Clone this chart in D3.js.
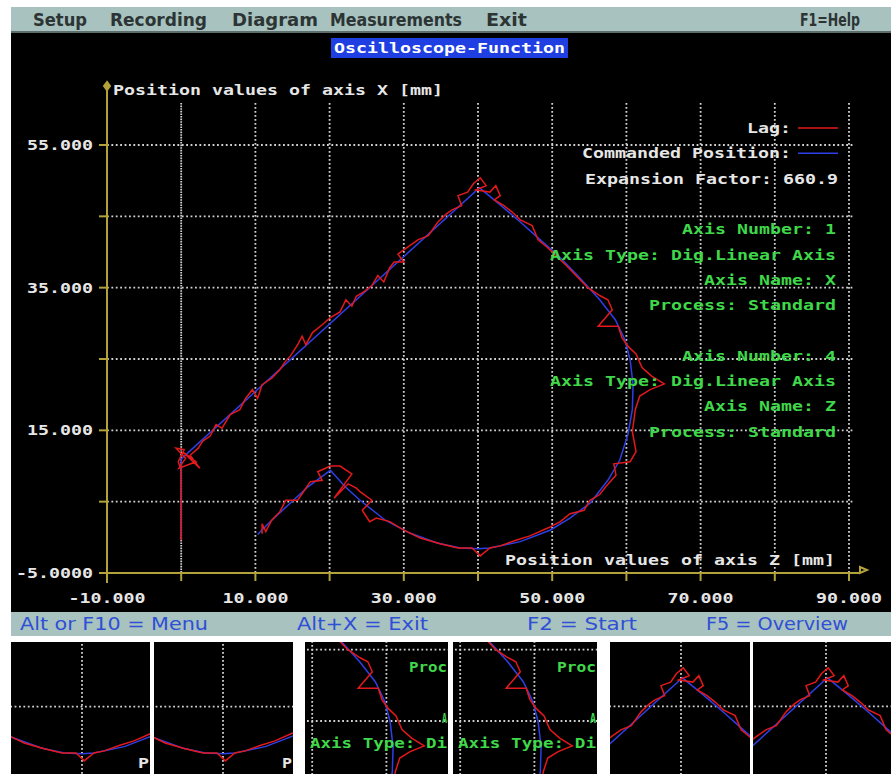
<!DOCTYPE html>
<html>
<head>
<meta charset="utf-8">
<script src="https://cdn.jsdelivr.net/npm/d3@7"></script>
<style>
  html, body { margin: 0; padding: 0; background: #ffffff; }
  svg { display: block; }
</style>
</head>
<body>
<svg id="screen" width="891" height="774"></svg>
<script>
// ---- axis ranges and ticks (mm) ----
const xDomain = [-10, 90];          // axis Z
const yDomain = [-5, 55];           // axis X
const xGridValues = [0, 10, 20, 30, 40, 50, 60, 70, 80, 90];
const yGridValues = [5, 15, 25, 35, 45, 55];
const xTickValues = [-10, 0, 10, 20, 30, 40, 50, 60, 70, 80, 90];
const yTickValues = [-5, 5, 15, 25, 35, 45, 55];
const xLabelValues = [-10, 10, 30, 50, 70, 90];
const xTickLabels = ["-10.000", "10.000", "30.000", "50.000", "70.000", "90.000"];
const yLabelValues = [-5, 15, 35, 55];
const yTickLabels = ["-5.0000", "15.000", "35.000", "55.000"];

// ---- recorded traces: [Z, X] in mm ----
const commanded = [
  [0, 0], [0, 11], [40.2, 49.0], [43.0, 46.6], [45.7, 44.2], [48.4, 41.7], [51.1, 39.2],
  [53.7, 36.4], [56.4, 33.3], [58.5, 30.5], [59.8, 27.7], [60.5, 24.9], [60.9, 21.4],
  [60.8, 17.9], [60.2, 14.4], [59.1, 10.8], [57.5, 8.0], [55.1, 4.8], [52.4, 2.7],
  [49.7, 1.0], [45.7, -0.6], [41.6, -1.5], [40.0, -1.6], [37.6, -1.5], [34.5, -0.8],
  [30.8, 0.6], [27.5, 2.4], [24.1, 5.2], [22.1, 7.1], [20.1, 9.4], [17.0, 7.0],
  [14.5, 4.6], [12.2, 2.4], [10.3, 0.4]
];
const lag = [
  [0, -0.4], [0, 5.2], [0, 9.4], [-0.4, 10.6], [0.4, 12.3], [-0.7, 12.5], [0.6, 11.1],
  [-0.3, 9.7], [2.0, 10.6], [0.2, 12.0], [2.5, 9.7], [1.2, 11.5], [2.3, 12.5],
  [2.9, 13.5], [3.9, 14.2], [4.7, 15.8], [5.5, 15.3], [6.6, 17.2], [7.9, 17.9],
  [8.7, 19.5], [9.6, 20.7], [10.3, 19.5], [10.9, 21.4], [12.2, 22.3], [13.3, 23.5],
  [14.0, 24.6], [14.7, 25.4], [15.7, 27.0], [16.3, 28.2], [16.8, 27.0], [17.7, 28.7],
  [19.0, 29.8], [20.1, 30.8], [21.4, 31.6], [22.2, 33.3], [23.0, 32.4], [23.6, 33.8],
  [24.6, 34.4], [25.7, 35.3], [26.5, 36.7], [27.3, 35.8], [28.1, 37.8], [28.7, 38.6],
  [30.0, 38.6], [29.2, 39.7], [30.8, 40.9], [31.9, 41.7], [33.3, 42.3], [34.6, 44.2],
  [35.7, 45.3], [36.5, 45.9], [37.8, 46.5], [37.3, 47.9], [38.6, 48.4], [39.4, 49.6],
  [40.3, 50.4], [41.1, 49.3], [39.7, 48.7], [41.6, 48.4], [42.4, 49.3], [43.0, 47.9],
  [42.2, 47.3], [43.5, 46.5], [44.6, 45.6], [45.7, 44.5], [47.3, 43.7], [48.1, 41.7],
  [49.4, 40.6], [50.5, 39.5], [51.9, 38.1], [53.5, 36.4], [54.8, 35.0], [56.4, 33.9],
  [57.5, 33.3], [58.1, 31.9], [56.2, 29.6], [58.9, 29.6], [59.4, 28.0], [60.2, 26.8],
  [61.3, 25.7], [62.1, 23.8], [63.4, 22.6], [65.1, 21.5], [63.2, 20.7], [61.8, 19.8],
  [61.2, 17.9], [60.8, 14.8], [61.3, 12.0], [60.5, 10.6], [58.3, 10.3], [58.6, 8.7],
  [57.3, 7.2], [56.4, 6.0], [55.1, 5.2], [54.3, 3.8], [52.4, 3.3], [51.1, 2.2],
  [49.4, 1.3], [47.0, 0.2], [45.1, -0.4], [43.0, -1.2], [41.6, -1.5], [40.3, -2.6],
  [39.2, -1.5], [37.3, -1.5], [34.9, -0.9], [32.2, -0.1], [30.0, 1.0], [28.1, 2.2],
  [26.3, 2.7], [25.4, 2.2], [24.4, 3.8], [25.7, 5.2], [24.1, 6.4], [23.6, 6.9],
  [22.5, 7.5], [20.6, 5.5], [23.0, 8.9], [21.4, 10.0], [20.1, 10.0], [18.4, 9.2],
  [19.0, 8.0], [17.4, 7.8], [15.7, 5.2], [14.1, 5.2], [13.3, 3.6], [12.2, 2.4],
  [11.4, 0.8], [10.9, 1.9], [10.9, 0.5]
];

// ---- screen texts ----
const menuItems = ["Setup", "Recording", "Diagram", "Measurements", "Exit"];
const helpItem = "F1=Help";
const statusItems = ["Alt or F10 = Menu", "Alt+X = Exit", "F2 = Start", "F5 = Overview"];
const screenTitle = "Oscilloscope-Function";
const yAxisTitle = "Position values of axis X [mm]";
const xAxisTitle = "Position values of axis Z [mm]";
const legendNames = ["Lag:", "Commanded Position:"];
const expansionText = "Expansion Factor: 660.9";
const axisInfo = [
  "Axis Number: 1", "Axis Type: Dig.Linear Axis", "Axis Name: X", "Process: Standard",
  "", "Axis Number: 4", "Axis Type: Dig.Linear Axis", "Axis Name: Z", "Process: Standard"
];

// ---- colours ----
const C = {
  bar: "#a7c2bf", barEdge: "#5d6e6c", menuText: "#2c3434", statusText: "#2f4fd6",
  axis: "#b3a23a", grid: "#d2d2d2", text: "#e6e6e6", info: "#3fd84a",
  lag: "#e3191c", cmd: "#2f3fe6", titleBg: "#1f3fe3"
};

const CHAR_W = 11;
const svg = d3.select("#screen");
const x = d3.scaleLinear().domain(xDomain).range([107, 849]);
const y = d3.scaleLinear().domain(yDomain).range([573, 145]);
const gridTop = 103;
const lineGen = d3.line().x(d => x(d[0])).y(d => y(d[1]));

// right-aligned info lines (text, right end, baseline, colour)
const legendY = 133, lineStep = 25.3;
const infoLines = [];
infoLines.push({ s: expansionText, end: 838, base: legendY + 2 * lineStep, fill: C.text });
axisInfo.forEach((s, i) => {
  if (s) infoLines.push({ s, end: 836, base: legendY + (4 + i) * lineStep, fill: C.info });
});

function mono(g, str, px, py, anchor, fill, len) {
  return g.append("text")
    .attr("x", px).attr("y", py)
    .attr("text-anchor", anchor)
    .attr("textLength", len || str.length * CHAR_W)
    .attr("lengthAdjust", "spacingAndGlyphs")
    .attr("font-family", "'DejaVu Sans Mono', 'Liberation Mono', monospace")
    .attr("font-size", 14).attr("font-weight", "bold")
    .attr("fill", fill)
    .text(str);
}

function narrow(g, str, px, py, len, fill, size, weight) {
  return g.append("text")
    .attr("x", px).attr("y", py)
    .attr("textLength", len).attr("lengthAdjust", "spacingAndGlyphs")
    .attr("font-family", "'Liberation Sans Narrow', 'DejaVu Sans Condensed', 'DejaVu Sans', sans-serif")
    .attr("font-size", size).attr("font-weight", weight || "bold")
    .attr("fill", fill)
    .text(str);
}

// grid, axes and traces of the oscilloscope area
function drawPlot(g) {
  g.append("g").selectAll("line").data(xGridValues).join("line")
    .attr("x1", d => x(d)).attr("x2", d => x(d))
    .attr("y1", gridTop).attr("y2", y(yDomain[0]))
    .attr("stroke", C.grid).attr("stroke-width", 1.8)
    .attr("stroke-dasharray", d => d === 0 ? "1.6,1" : "1.8,2.2");
  g.append("g").selectAll("line").data(yGridValues).join("line")
    .attr("x1", x(xDomain[0])).attr("x2", x(xDomain[1]) + 4)
    .attr("y1", d => y(d)).attr("y2", d => y(d))
    .attr("stroke", C.grid).attr("stroke-width", 1.8)
    .attr("stroke-dasharray", "1.8,2.6");

  const ax = g.append("g").attr("stroke", C.axis).attr("stroke-width", 2).attr("fill", "none");
  ax.append("line").attr("x1", x(xDomain[0])).attr("x2", x(xDomain[0]))
    .attr("y1", 86).attr("y2", y(yDomain[0]) + 10);
  ax.append("line").attr("x1", x(xDomain[0])).attr("x2", 860)
    .attr("y1", y(yDomain[0])).attr("y2", y(yDomain[0]));
  ax.selectAll(".xt").data(xTickValues).join("line")
    .attr("x1", d => x(d)).attr("x2", d => x(d))
    .attr("y1", y(yDomain[0])).attr("y2", y(yDomain[0]) + 8);
  ax.selectAll(".yt").data(yTickValues).join("line")
    .attr("x1", x(xDomain[0]) - 8).attr("x2", x(xDomain[0]))
    .attr("y1", d => y(d)).attr("y2", d => y(d));
  ax.append("path").attr("d", `M${x(xDomain[0])},82 l-3,4 l3,4 l3,-4 z`).attr("fill", C.axis);
  ax.append("path").attr("d", `M860,${y(yDomain[0]) - 6} l7,3 l-7,3 z`);

  g.append("path").datum(commanded).attr("d", lineGen)
    .attr("fill", "none").attr("stroke", C.cmd).attr("stroke-width", 1.5);
  g.append("path").datum(lag).attr("d", lineGen)
    .attr("fill", "none").attr("stroke", C.lag).attr("stroke-width", 1.5);
}

// ---- screen frame ----
svg.append("rect").attr("x", 11).attr("y", 7).attr("width", 880).attr("height", 26).attr("fill", C.bar);
svg.append("rect").attr("x", 11).attr("y", 31).attr("width", 880).attr("height", 2).attr("fill", C.barEdge);
svg.append("rect").attr("x", 11).attr("y", 33).attr("width", 880).attr("height", 579).attr("fill", "#000");
svg.append("rect").attr("x", 11).attr("y", 612).attr("width", 880).attr("height", 24).attr("fill", C.bar);

// menu bar
const menuPos = [[33, 54], [110, 97], [232, 86], [330, 132], [486, 41]];
menuItems.forEach((s, i) => narrow(svg, s, menuPos[i][0], 26, menuPos[i][1], C.menuText, 17));
narrow(svg, helpItem, 800, 26, 60, C.menuText, 17);

// status bar
const statusPos = [[20, 188], [297, 131], [527, 110], [706, 142]];
statusItems.forEach((s, i) => narrow(svg, s, statusPos[i][0], 630, statusPos[i][1], C.statusText, 17, "normal"));

// title
svg.append("rect").attr("x", 331).attr("y", 38).attr("width", 237).attr("height", 20).attr("fill", C.titleBg);
mono(svg, screenTitle, 449.5, 53, "middle", "#ffffff");

// ---- main oscilloscope area ----
const main = svg.append("g");
drawPlot(main);
legendNames.forEach((s, i) => mono(main, s, 791, legendY + i * lineStep, "end", C.text));
main.append("line").attr("x1", 798).attr("x2", 838)
  .attr("y1", legendY - 5).attr("y2", legendY - 5).attr("stroke", C.lag).attr("stroke-width", 1.5);
main.append("line").attr("x1", 798).attr("x2", 838)
  .attr("y1", legendY - 5 + lineStep).attr("y2", legendY - 5 + lineStep).attr("stroke", C.cmd).attr("stroke-width", 1.5);
infoLines.forEach(l => mono(main, l.s, l.end, l.base, "end", l.fill));
mono(main, yAxisTitle, 113, 95, "start", C.text);
mono(main, xAxisTitle, 835, 565, "end", C.text);
xLabelValues.forEach((v, i) => mono(main, xTickLabels[i], x(v), 603, "middle", C.text));
yLabelValues.forEach((v, i) => mono(main, yTickLabels[i], 93, y(v) + 5, "end", C.text));

// ---- overview thumbnails: 1:1 cut-outs of the recorded area ----
const panels = [
  { x0: 11, x1: 150, dx: -396, dy: 205, tail: 138 },
  { x0: 154, x1: 293, dx: -255, dy: 205, tail: 282 },
  { x0: 305, x1: 448, dx: -240, dy: 362 },
  { x0: 453, x1: 597, dx: -92, dy: 362 },
  { x0: 610, x1: 750, dx: 203, dy: 490 },
  { x0: 753, x1: 891, dx: 348, dy: 490 }
];
const PY0 = 642, PY1 = 774;
const defs = svg.append("defs");
panels.forEach((p, i) => {
  const id = "thumb" + i;
  defs.append("clipPath").attr("id", id)
    .append("rect").attr("x", p.x0).attr("y", PY0).attr("width", p.x1 - p.x0).attr("height", PY1 - PY0);
  svg.append("rect").attr("x", p.x0).attr("y", PY0).attr("width", p.x1 - p.x0).attr("height", PY1 - PY0).attr("fill", "#000");
  const holder = svg.append("g").attr("clip-path", `url(#${id})`);
  drawPlot(holder.append("g").attr("transform", `translate(${p.dx},${p.dy})`));

  // the part of each info line that falls inside the cut-out
  infoLines.forEach(l => {
    const base = l.base + p.dy;
    if (base - 11 < PY0 || base > PY1) return;
    const start = l.end - l.s.length * CHAR_W + p.dx;
    const first = Math.max(0, Math.ceil((p.x0 - start) / CHAR_W));
    const visRight = Math.min(p.x1 - 1, l.end + p.dx);
    const left = start + first * CHAR_W;
    if (visRight - left < 4) return;
    const n = Math.min(l.s.length - first, Math.ceil((visRight - left) / CHAR_W));
    const part = l.s.substr(first, n);
    const len = Math.min(n * CHAR_W, visRight - left);
    mono(svg, part, left, base, "start", l.fill, len);
  });
  if (p.tail) mono(svg, xAxisTitle.charAt(0), p.tail, 768, "start", C.text, p.x1 - 1 - p.tail);
});
</script>
</body>
</html>
